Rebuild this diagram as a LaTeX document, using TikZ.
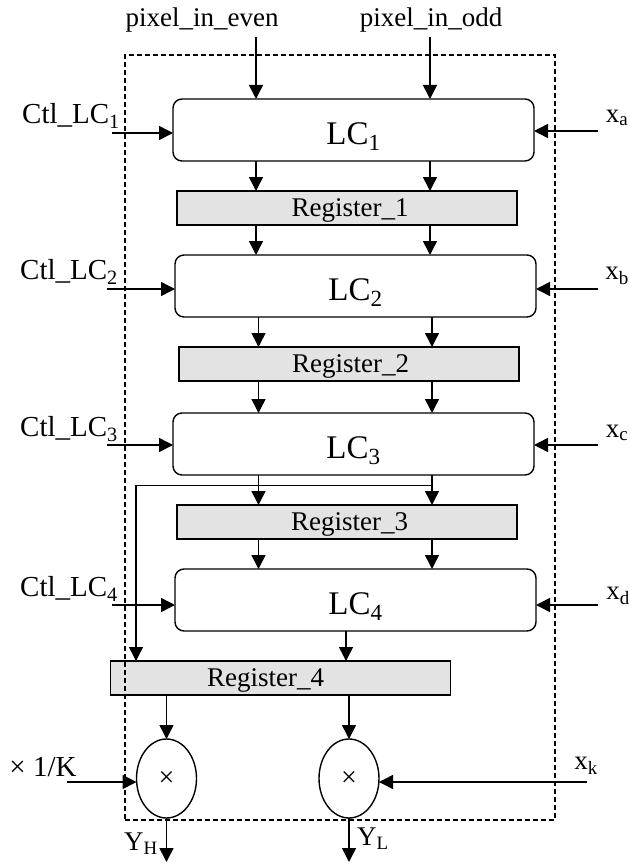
\documentclass[tikz,border=0pt]{standalone}
\usepackage{fontspec}
\setmainfont{Liberation Serif}
\usetikzlibrary{arrows.meta, positioning, shapes.geometric}

\begin{document}
\begin{tikzpicture}[
  x=1pt, y=-1pt,
  outer sep=0pt,
  lcbox/.style   = {draw, rounded corners=9pt, line width=1.4pt, minimum width=361pt,
                    minimum height=62pt, inner sep=0pt, text height=28pt, text depth=0pt,
                    font=\fontsize{33}{33}\selectfont},
  regbox/.style  = {draw, fill=gray!22, line width=1.4pt, minimum width=340pt,
                    minimum height=34pt, inner sep=0pt, text height=17pt, text depth=0pt,
                    font=\fontsize{27}{27}\selectfont},
  mulnode/.style = {draw, ellipse, line width=1.4pt, minimum width=60pt, minimum height=79pt,
                    inner sep=0pt, font=\fontsize{28}{28}\selectfont},
  frame/.style   = {draw, dash pattern=on 5pt off 3pt, line width=1.1pt,
                    minimum width=430pt, minimum height=765pt},
  lbl/.style     = {inner sep=0pt, font=\fontsize{27}{27}\selectfont},
  ctl/.style     = {inner sep=0pt, font=\fontsize{29}{29}\selectfont},
  arr/.style     = {-{Triangle[length=14pt, width=14pt]}, line width=1.5pt}
]
  \useasboundingbox (0,0) rectangle (629,864);

  %% Line cards and registers
  \node[lcbox] at (353.5,130) (lc1) {LC\textsubscript{1}};
  \node[regbox, below=30pt of lc1, xshift=-6.5pt] (reg1) {\hspace*{6pt}Register\_1};
  \node[lcbox, below=30pt of reg1, xshift=8.5pt] (lc2) {LC\textsubscript{2}};
  \node[regbox, below=30pt of lc2, xshift=-6.5pt] (reg2) {\hspace*{3pt}Register\_2};
  \node[lcbox, below=32pt of reg2, xshift=4.5pt] (lc3) {LC\textsubscript{3}};
  \node[regbox, below=30pt of lc3, xshift=-6.5pt] (reg3) {\hspace*{5pt}Register\_3};
  \node[lcbox, below=30pt of reg3, xshift=8.5pt] (lc4) {LC\textsubscript{4}};
  \node[regbox, below=30pt of lc4, xshift=-75pt] (reg4) {Register\_4\hspace{30pt}\mbox{}};

  %% Multipliers
  \node[mulnode] at (166.5,778.5) (mulh) {×};
  \node[mulnode] at (349,778.5) (mull) {×};

  %% Labels
  \node[lbl] at (202,20) (even) {pixel\_in\_even};
  \node[lbl] at (431,20) (odd) {pixel\_in\_odd};
  \node[ctl] at (71,116) (ctl1) {Ctl\_LC\textsubscript{1}};
  \node[ctl] at (69,272) (ctl2) {Ctl\_LC\textsubscript{2}};
  \node[ctl] at (69,429) (ctl3) {Ctl\_LC\textsubscript{3}};
  \node[ctl] at (69,589) (ctl4) {Ctl\_LC\textsubscript{4}};
  \node[lbl] at (617,118) (xa) {x\textsubscript{a}};
  \node[lbl] at (617,276) (xb) {x\textsubscript{b}};
  \node[lbl] at (617,433) (xc) {x\textsubscript{c}};
  \node[lbl] at (618,596) (xd) {x\textsubscript{d}};
  \node[lbl] at (586,766) (xk) {x\textsubscript{k}};
  \node[ctl] at (43,767) (invk) {× 1/K};
  \node[lbl] at (141,844) (yh) {Y\textsubscript{H}};
  \node[lbl] at (373,839) (yl) {Y\textsubscript{L}};

  %% Free ends
  \coordinate (evenin) at (256,37);
  \coordinate (oddin)  at (430,37);
  \coordinate (evenlo) at (258.5,440);
  \coordinate (oddlo)  at (432,440);
  \coordinate (lc4out) at (346,640);
  \coordinate (ctl1in) at (112,133);
  \coordinate (ctl2in) at (107,289);
  \coordinate (ctl3in) at (107,445);
  \coordinate (ctl4in) at (112,605);
  \coordinate (xain)   at (598,131);
  \coordinate (xbin)   at (598,289);
  \coordinate (xcin)   at (598,445);
  \coordinate (xdin)   at (598,605);
  \coordinate (invkin) at (67,782);
  \coordinate (xkin)   at (587,782);
  \coordinate (yhout)  at (166.5,862);
  \coordinate (ylout)  at (349,862);
  \coordinate (tapl)   at (136,485.5);
  \coordinate (tapr)   at (432,485.5);

  %% Data path
  \draw[arr] (evenin) -- (evenin |- lc1.north);
  \draw[arr] (oddin)  -- (oddin |- lc1.north);
  \foreach \up/\down in {lc1/reg1, reg1/lc2} {
    \draw[arr] (evenin |- \up.south) -- (evenin |- \down.north);
    \draw[arr] (oddin |- \up.south) -- (oddin |- \down.north);
  }
  \foreach \up/\down in {lc2/reg2, reg2/lc3, lc3/reg3, reg3/lc4} {
    \draw[arr] (evenlo |- \up.south) -- (evenlo |- \down.north);
    \draw[arr] (oddlo |- \up.south) -- (oddlo |- \down.north);
  }
  \draw[arr] (lc4out |- lc4.south) -- (lc4out |- reg4.north);
  \draw[arr] (tapr) -- (tapl) -- (tapl |- reg4.north);
  \draw[arr] (mulh.north |- reg4.south) -- (mulh.north);
  \draw[arr] (mull.north |- reg4.south) -- (mull.north);

  %% Control and coefficient inputs
  \foreach \n in {1,2,3,4} {
    \draw[arr] (ctl\n in) -- (ctl\n in -| lc\n.west);
  }
  \draw[arr] (xain) -- (xain -| lc1.east);
  \draw[arr] (xbin) -- (xbin -| lc2.east);
  \draw[arr] (xcin) -- (xcin -| lc3.east);
  \draw[arr] (xdin) -- (xdin -| lc4.east);
  \draw[arr] (invkin) -- (invkin -| mulh.west);
  \draw[arr] (xkin) -- (xkin -| mull.east);
  \draw[arr] (mulh.south) -- (yhout);
  \draw[arr] (mull.south) -- (ylout);

  %% Bounding box
  \node[frame] at (340,437.5) (chip) {};
\end{tikzpicture}
\end{document}
